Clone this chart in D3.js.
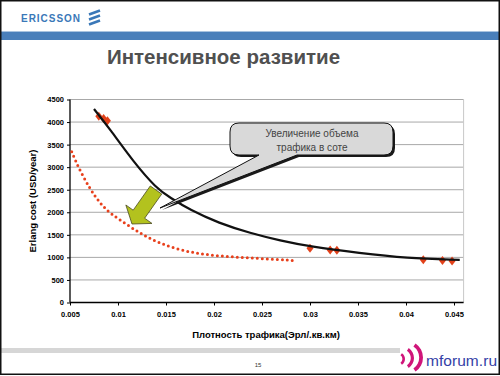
<!DOCTYPE html>
<html><head><meta charset="utf-8">
<script src="https://cdn.jsdelivr.net/npm/d3@7"></script>
<style>html,body{margin:0;padding:0;background:#fff;}svg{display:block;}</style>
</head><body>
<script>
// ---- data ----
const fitX = [0.0075, 0.0091, 0.0116, 0.0140, 0.0154, 0.0175, 0.0205, 0.0238, 0.0269, 0.0300, 0.0352, 0.0400, 0.0456];
const fitY = [4290, 3860, 3120, 2530, 2330, 2050, 1760, 1535, 1372, 1239, 1093, 982, 945];
const dotX = [0.00518, 0.00604, 0.00708, 0.00812, 0.00916, 0.0109, 0.01263, 0.01437, 0.01646, 0.01854, 0.0206, 0.0227, 0.0248, 0.02688, 0.0284];
const dotY = [3340, 2920, 2520, 2200, 1980, 1730, 1490, 1314, 1160, 1080, 1030, 1000, 975, 950, 930];
const markX = [0.0080, 0.0085, 0.0089, 0.0300, 0.0321, 0.0328, 0.0418, 0.0438, 0.0448];
const markY = [4130, 4080, 4030, 1200, 1165, 1160, 945, 930, 920];
const xTicks = [0.005, 0.01, 0.015, 0.02, 0.025, 0.03, 0.035, 0.04, 0.045];
const yTicks = [0, 500, 1000, 1500, 2000, 2500, 3000, 3500, 4000, 4500];
const title = "Интенсивное развитие";
const xTitle = "Плотность трафика(Эрл/.кв.км)";
const yTitle = "Erlang cost (USD/year)";
const calloutLines = ["Увеличение объема", "трафика в соте"];

const W = 500, H = 376;
const FONT = "'Liberation Sans', Arial, sans-serif";
const svg = d3.select("body").append("svg").attr("width", W).attr("height", H)
  .style("font-family", FONT);

// slide decoration
svg.append("rect").attr("x",0).attr("y",0).attr("width",W).attr("height",H).attr("fill","#fff");
svg.append("rect").attr("x",0).attr("y",31).attr("width",W).attr("height",1).attr("fill","#a9c3df");
svg.append("rect").attr("x",0).attr("y",32).attr("width",W).attr("height",8).attr("fill","#4a7fba");
svg.append("text").attr("x",21).attr("y",21.5).text("ERICSSON")
  .attr("font-size",10).attr("font-weight","bold").attr("fill","#3a78b8").attr("textLength",59);
[12.5,17.5,22.5].forEach(y=>{
  svg.append("line").attr("x1",89).attr("y1",y+2).attr("x2",100).attr("y2",y-2)
    .attr("stroke","#3a78b8").attr("stroke-width",2.6);
});
svg.append("text").attr("x",223.5).attr("y",64).attr("text-anchor","middle").text(title)
  .attr("font-size",20.5).attr("font-weight","bold").attr("fill","#505050");

// bottom bar
svg.append("rect").attr("x",0).attr("y",348).attr("width",400).attr("height",5).attr("fill","#d6d6d6");
svg.append("text").attr("x",258).attr("y",367).attr("text-anchor","middle").text("15")
  .attr("font-size",6).attr("fill","#333");

// mforum logo: three ")" crescents
const arcs = [[405,359,7,2.6],[414,358,12,3.2],[423,357.5,17,3.8]];
arcs.forEach(([rx,cy,r,w])=>{
  const a = d3.arc().innerRadius(r-w).outerRadius(r).startAngle(Math.PI*0.19).endAngle(Math.PI*0.81);
  svg.append("path").attr("d",a()).attr("transform",`translate(${rx-r},${cy})`).attr("fill","#d0157a");
});
svg.append("text").attr("x",426).attr("y",366).text("mforum.ru")
  .attr("font-size",15.5).attr("fill","#3340a6").attr("textLength",71);

// frame
svg.append("rect").attr("x",0.75).attr("y",0.75).attr("width",W-1.5).attr("height",H-2.5)
  .attr("fill","none").attr("stroke","#111").attr("stroke-width",1.5);

// ---- chart ----
const x = d3.scaleLinear().domain([0.005, 0.046]).range([70, 463.6]);
const y = d3.scaleLinear().domain([0, 4500]).range([302.5, 99.5]);

const g = svg.append("g");
g.selectAll(".grid").data(yTicks.filter(d=>d>0)).join("line")
  .attr("x1",70).attr("x2",463.6).attr("y1",d=>y(d)).attr("y2",d=>y(d))
  .attr("stroke","#a8a8a8").attr("stroke-width",1);
g.append("line").attr("x1",463.6).attr("x2",463.6).attr("y1",y(4500)).attr("y2",y(0))
  .attr("stroke","#c8c8c8").attr("stroke-width",1);

const xAxis = d3.axisBottom(x).tickValues(xTicks).tickSize(3).tickPadding(6)
  .tickFormat(d=>String(+d.toFixed(3)));
const yAxis = d3.axisLeft(y).tickValues(yTicks).tickSize(3).tickPadding(3).tickFormat(d3.format("d"));
const gx = g.append("g").attr("transform",`translate(0,${y(0)})`).call(xAxis);
const gy = g.append("g").attr("transform",`translate(70,0)`).call(yAxis);
[gx,gy].forEach(a=>{
  a.select(".domain").attr("stroke","#000").attr("stroke-width",1.3);
  a.selectAll(".tick line").attr("stroke","#000");
  a.selectAll("text").attr("font-family",FONT).attr("font-size",7.5).attr("font-weight","bold").attr("fill","#000");
});
gx.select(".domain").attr("d",`M70,0H463.6`);
gy.select(".domain").attr("d",`M0,${y(4500)}V${y(0)}`);

svg.append("text").attr("transform","translate(36,201) rotate(-90)").attr("text-anchor","middle")
  .text(yTitle).attr("font-size",9.5).attr("font-weight","bold").attr("fill","#000");
svg.append("text").attr("x",266).attr("y",337.5).attr("text-anchor","middle")
  .text(xTitle).attr("font-size",9.5).attr("font-weight","bold").attr("fill","#000");

// dotted curve
const dotData = dotX.map((v,i)=>[v,dotY[i]]);
g.append("path").datum(dotData)
  .attr("d", d3.line().x(d=>x(d[0])).y(d=>y(d[1])).curve(d3.curveBasis))
  .attr("fill","none").attr("stroke","#e8401c").attr("stroke-width",3)
  .attr("stroke-linecap","round").attr("stroke-dasharray","0 5");

// markers
const markData = markX.map((v,i)=>[v,markY[i]]);
g.selectAll(".mk").data(markData).join("path")
  .attr("d","M0,-4.5L3.5,0L0,4.5L-3.5,0Z")
  .attr("transform",d=>`translate(${x(d[0])},${y(d[1])})`)
  .attr("fill","#e2411a");

// fit curve
const fitData = fitX.map((v,i)=>[v,fitY[i]]);
g.append("path").datum(fitData)
  .attr("d", d3.line().x(d=>x(d[0])).y(d=>y(d[1])).curve(d3.curveBasis))
  .attr("fill","none").attr("stroke","#111").attr("stroke-width",2.2);

// callout
function calloutPath(dx,dy){
  const x0=230+dx,x1=393+dx,y0=123+dy,y1=155+dy,r=9;
  const tx=160+dx, ty=208+dy;
  return `M${x0+r},${y0}H${x1-r}Q${x1},${y0} ${x1},${y0+r}V${y1-r}Q${x1},${y1} ${x1-r},${y1}`+
    `H${297+dx}L${tx},${ty}L${259+dx},${y1}H${x0+r}Q${x0},${y1} ${x0},${y1-r}V${y0+r}Q${x0},${y0} ${x0+r},${y0}Z`;
}
svg.append("path").attr("d",calloutPath(2,2)).attr("fill","#1a1a1a");
svg.append("path").attr("d",calloutPath(0,0)).attr("fill","#d9d9d9").attr("stroke","#111").attr("stroke-width",1);
calloutLines.forEach((t,i)=>{
  svg.append("text").attr("x",312).attr("y",136.5+i*14.5).attr("text-anchor","middle")
    .text(t).attr("font-size",10).attr("fill","#444");
});

// green block arrow
(function(){
  const sx=156, sy=190, tx=132, ty=224;
  const dxv=tx-sx, dyv=ty-sy, L=Math.hypot(dxv,dyv);
  const ux=dxv/L, uy=dyv/L, px=-uy, py=ux;
  const headL=12, shaftW=7, headW=16;
  const bx=tx-ux*headL, by=ty-uy*headL;
  const pts=[
    [sx+px*shaftW, sy+py*shaftW],[bx+px*shaftW, by+py*shaftW],[bx+px*headW, by+py*headW],
    [tx,ty],[bx-px*headW, by-py*headW],[bx-px*shaftW, by-py*shaftW],[sx-px*shaftW, sy-py*shaftW]
  ];
  svg.append("path").attr("d","M"+pts.map(p=>p.join(",")).join("L")+"Z")
    .attr("fill","#b3c21e").attr("stroke","#4a4a20").attr("stroke-width",0.8);
})();
</script>
</body></html>
